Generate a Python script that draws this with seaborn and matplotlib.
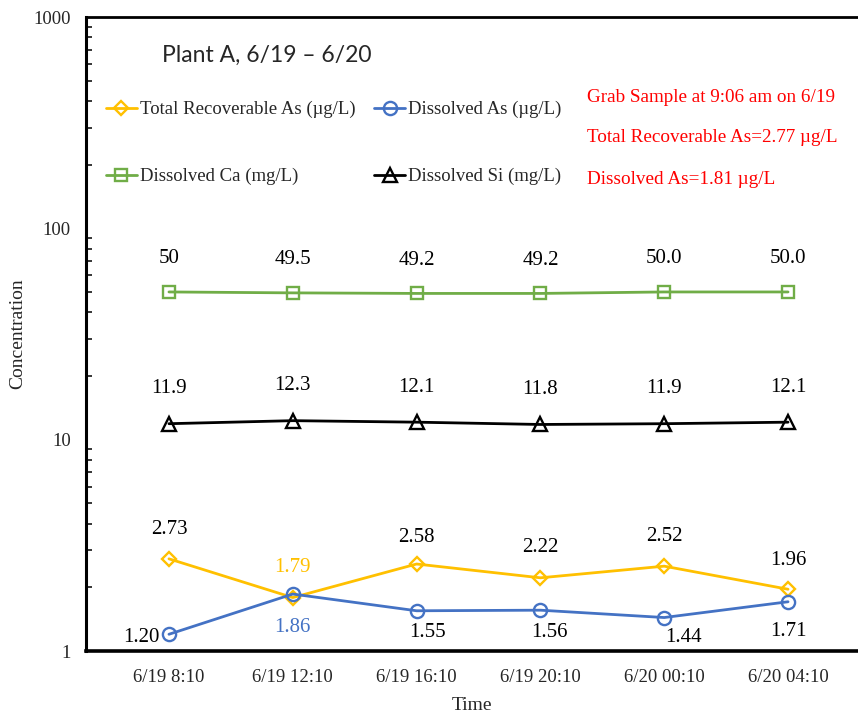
import matplotlib
matplotlib.use("Agg")
import matplotlib.pyplot as plt
import seaborn as sns
import numpy as np

# Sampling times and measured concentrations
times = ["6/19 8:10", "6/19 12:10", "6/19 16:10", "6/19 20:10", "6/20 00:10", "6/20 04:10"]
total_as = [2.73, 1.79, 2.58, 2.22, 2.52, 1.96]        # µg/L
dissolved_as = [1.20, 1.86, 1.55, 1.56, 1.44, 1.71]    # µg/L
dissolved_ca = [50, 49.5, 49.2, 49.2, 50.0, 50.0]      # mg/L
dissolved_si = [11.9, 12.3, 12.1, 11.8, 11.9, 12.1]    # mg/L
ca_labels = ["50", "49.5", "49.2", "49.2", "50.0", "50.0"]
y_ticks = [1, 10, 100, 1000]

sns.set_style("white")
plt.rcParams["font.family"] = ["Liberation Serif", "DejaVu Serif"]

fig = plt.figure(figsize=(8.58, 7.17), dpi=100)
ax = fig.add_axes([86 / 858, 66 / 717, 1 - 86 / 858, (651 - 17) / 717])

x = np.arange(len(times))
YELLOW, BLUE, GREEN, BLACK = "#FFC000", "#4472C4", "#70AD47", "#000000"

series = [
    (total_as, YELLOW, "D", 7.5, "Total Recoverable As (µg/L)"),
    (dissolved_ca, GREEN, "s", 8.0, "Dissolved Ca (mg/L)"),
    (dissolved_as, BLUE, "o", 9.5, "Dissolved As (µg/L)"),
    (dissolved_si, BLACK, "^", 9.5, "Dissolved Si (mg/L)"),
]
for vals, col, mk, ms, lab in series:
    sns.lineplot(x=x, y=vals, ax=ax, color=col, marker=mk, markersize=ms,
                 markerfacecolor="none", markeredgecolor=col, markeredgewidth=1.7,
                 linewidth=2.0, label=lab)

ax.set_yscale("log")
ax.set_ylim(1, 1000)
ax.set_xlim(-0.67, 5.565)
ax.set_yticks(y_ticks)
ax.set_yticklabels([str(v) for v in y_ticks])
ax.set_xticks(x)
ax.set_xticklabels(times)
ax.tick_params(axis="x", length=0, labelsize=13.5, pad=13)
ax.tick_params(axis="y", which="major", direction="inout", length=8, width=1.6,
               labelsize=13.5, pad=7)
ax.tick_params(axis="y", which="minor", direction="in", length=4, width=1.3, left=True)
ax.yaxis.set_minor_locator(matplotlib.ticker.LogLocator(base=10, subs=np.arange(2, 10)))
ax.yaxis.set_minor_formatter(matplotlib.ticker.NullFormatter())

for side in ["left", "top", "bottom"]:
    ax.spines[side].set_visible(True)
    ax.spines[side].set_color("black")
ax.spines["left"].set_linewidth(2.2)
ax.spines["bottom"].set_linewidth(2.6)
ax.spines["top"].set_linewidth(2.0)
ax.spines["right"].set_visible(False)

ax.set_ylabel("Concentration", fontsize=14)
ax.yaxis.set_label_coords((18 - 86) / 772, 0.5)
ax.yaxis.label.set_va("center")
ax.set_xlabel("Time", fontsize=14)
ax.xaxis.set_label_coords(0.5, -(705 - 651) / 634)
ax.xaxis.label.set_va("center")

# Value labels
def label(xi, yi, txt, dx, dy, color="black"):
    ax.annotate(txt, (xi, yi), xytext=(dx, dy), textcoords="offset pixels",
                ha="center", va="center", fontsize=15, color=color)

for i, v in enumerate(dissolved_ca):
    label(i, v, ca_labels[i], 0, 33)
for i, v in enumerate(dissolved_si):
    label(i, v, f"{v:.1f}", 0, 35)
ta_off = [(0, 29), (0, 30), (0, 27), (0, 30), (0, 30), (0, 29)]
for i, v in enumerate(total_as):
    label(i, v, f"{v:.2f}", *ta_off[i], color=YELLOW if i == 1 else "black")
da_off = [(-28, -3), (0, -33), (11, -22), (9, -22), (19, -20), (0, -30)]
for i, v in enumerate(dissolved_as):
    label(i, v, f"{v:.2f}", *da_off[i], color=BLUE if i == 1 else "black")

# Title and grab sample notes
fig.text(162 / 858, 1 - 55 / 717, "Plant A, 6/19 \u2013 6/20", fontsize=16.5,
         family=["Lato", "DejaVu Sans"], ha="left", va="center")
notes = ["Grab Sample at 9:06 am on 6/19",
         "Total Recoverable As=2.77 µg/L",
         "Dissolved As=1.81 µg/L"]
for k, t in enumerate(notes):
    fig.text(587 / 858, 1 - (97 + 41 * k) / 717, t, fontsize=13.8, color="#FF0000",
             ha="left", va="center")

handles, labels_ = ax.get_legend_handles_labels()
ax.legend(handles, labels_, ncol=2, frameon=False, fontsize=13.5,
          loc="upper left", bbox_to_anchor=(106 / 858, 1 - 101 / 717),
          bbox_transform=fig.transFigure, borderaxespad=0, borderpad=0,
          handlelength=1.65, handletextpad=0.15, columnspacing=1.0, labelspacing=2.65)

fig.savefig("out.png", dpi=100)
